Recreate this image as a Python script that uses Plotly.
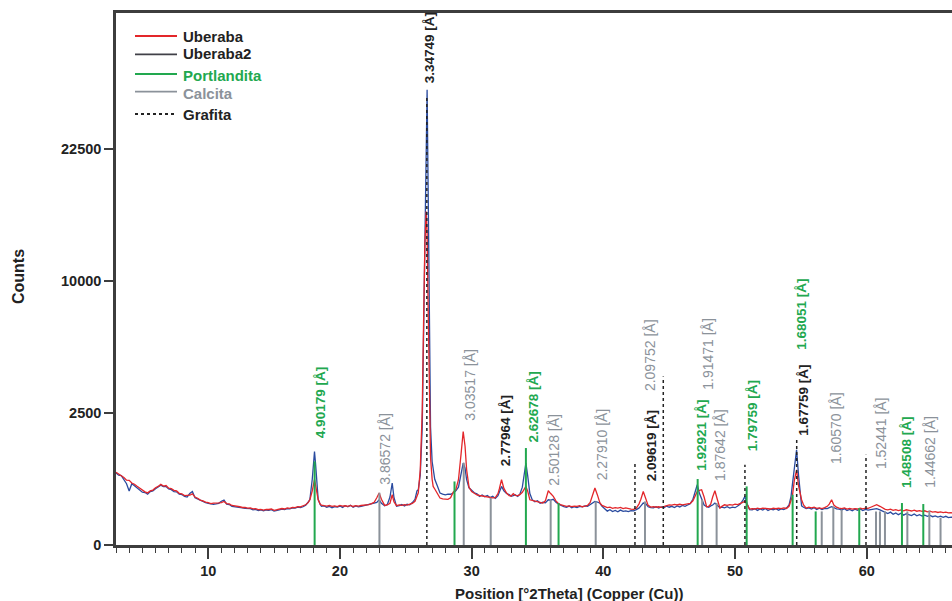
import numpy as np
import plotly.graph_objects as go

# ---------------- data ----------------
two_theta = [
    3.0, 3.2, 3.4, 3.6, 3.8, 4.0, 4.2, 4.4, 4.6, 4.8,
    5.0, 5.2, 5.4, 5.6, 5.8, 6.0, 6.2, 6.4, 6.6, 6.8,
    7.0, 7.2, 7.4, 7.6, 7.8, 8.0, 8.2, 8.4, 8.6, 8.8,
    9.0, 9.2, 9.4, 9.6, 9.8, 10.0, 10.2, 10.4, 10.6, 10.8,
    11.0, 11.2, 11.4, 11.6, 11.8, 12.0, 12.2, 12.4, 12.6, 12.8,
    13.0, 13.2, 13.4, 13.6, 13.8, 14.0, 14.2, 14.4, 14.6, 14.8,
    15.0, 15.2, 15.4, 15.6, 15.8, 16.0, 16.2, 16.4, 16.6, 16.8,
    17.0, 17.2, 17.4,
    17.6, 17.72, 17.9, 18.0, 18.07, 18.15, 18.25, 18.35, 18.5,
    18.6, 18.8, 19.0, 19.2, 19.4, 19.6, 19.8, 20.0, 20.2, 20.4,
    20.6, 20.8, 21.0, 21.2, 21.4, 21.6, 21.8, 22.0, 22.2, 22.4, 22.6,
    22.8, 22.98, 23.15, 23.4, 23.6, 23.8, 23.97, 24.1, 24.3,
    24.5, 24.7, 24.9, 25.1, 25.3, 25.5, 25.7,
    25.85, 25.95, 26.1, 26.25, 26.35, 26.45, 26.55, 26.62, 26.7, 26.78, 26.88, 27.0, 27.08,
    27.2, 27.4, 27.6, 27.8, 28.0, 28.2, 28.4, 28.6, 28.8, 29.0,
    29.2, 29.36, 29.5, 29.62, 29.8, 30.0, 30.2, 30.4, 30.6, 30.8,
    31.0, 31.2, 31.4, 31.6, 31.8, 32.0, 32.1, 32.27, 32.45, 32.65,
    32.85, 33.0, 33.16, 33.3, 33.5, 33.66, 33.85, 34.0, 34.12, 34.25,
    34.42, 34.6, 34.8, 35.0, 35.2, 35.4, 35.6, 35.82, 36.0, 36.2,
    36.4, 36.6, 36.8,
    37.0, 37.2, 37.4, 37.6, 37.8, 38.0, 38.2, 38.4, 38.6, 38.8,
    39.0, 39.2, 39.36, 39.55, 39.74, 39.9,
    40.1, 40.3, 40.5, 40.7, 40.9, 41.1, 41.3, 41.5, 41.7, 41.9, 42.1,
    42.3, 42.5, 42.7, 42.85, 43.03, 43.2, 43.4, 43.6,
    43.8, 44.0, 44.2, 44.4, 44.6, 44.8, 45.0, 45.2, 45.4, 45.6, 45.8, 46.0, 46.2, 46.4, 46.6,
    46.8, 46.95, 47.13, 47.3, 47.46, 47.65, 47.84, 48.0, 48.15, 48.3, 48.47, 48.65, 48.85,
    49.0, 49.2, 49.4, 49.6, 49.8, 50.0, 50.2, 50.4,
    50.6, 50.75, 50.9, 51.1,
    51.3, 51.5, 51.7, 51.9, 52.1, 52.3, 52.5, 52.7, 52.9, 53.1, 53.3, 53.5, 53.7, 53.9, 54.1,
    54.25, 54.35, 54.5, 54.67, 54.82, 54.95, 55.05, 55.2,
    55.4, 55.6, 55.8, 56.0, 56.2, 56.4, 56.6, 56.8,
    57.0, 57.15, 57.33, 57.5, 57.7,
    57.9, 58.1, 58.3, 58.5, 58.7, 58.9, 59.1, 59.3, 59.5, 59.7, 59.9, 60.1, 60.3,
    60.5, 60.75, 61.0, 61.2,
    61.4, 61.6, 61.8, 62.0, 62.2, 62.4, 62.6, 62.8, 63.0, 63.2, 63.4, 63.6, 63.8,
    64.0, 64.2, 64.4, 64.6, 64.8, 65.0, 65.2, 65.4, 65.6, 65.8, 66.0, 66.2, 66.4,
    66.5,
]

uberaba = [
    760, 728, 683, 655, 603, 600, 552, 531, 494, 462,
    424, 406, 390, 420, 433, 472, 493, 530, 498, 507,
    463, 456, 428, 420, 384, 376, 350, 349, 356, 375,
    330, 314, 290, 279, 263, 258, 247, 252, 249, 254,
    259, 272, 246, 243, 224, 221, 211, 210, 202, 204,
    195, 197, 187, 189, 180, 183, 175, 182, 181, 186,
    173, 181, 182, 191, 186, 197, 193, 203, 200, 211,
    208, 217, 232,
    260, 294, 420, 560, 612, 520, 380, 294, 240,
    228, 222, 218, 224, 214, 220, 212, 226, 218, 221,
    215, 225, 213, 222, 218, 224, 226, 230, 235, 245, 262,
    320, 388, 300, 225, 230, 250, 363, 270, 222,
    230, 226, 235, 228, 240, 248, 275,
    330, 392, 813, 2600, 7000, 13000, 15970, 14000, 8000, 3000, 1100, 620, 493,
    450, 380, 317, 305, 298, 300, 320, 400, 440, 612,
    1200, 1850, 1400, 813, 480, 410, 385, 360, 352, 345,
    338, 335, 325, 318, 322, 380, 450, 612, 460, 388,
    350, 345, 380, 355, 350, 363, 400, 450, 493, 420,
    294, 285, 275, 270, 260, 253, 280, 423, 380, 339,
    280, 245, 230,
    222, 215, 220, 212, 218, 214, 222, 210, 216, 225,
    260, 380, 466, 360, 253, 225,
    212, 200, 205, 192, 200, 196, 203, 190, 198, 188, 184,
    182, 195, 240, 300, 412, 320, 225, 207,
    212, 205, 210, 204, 214, 225, 232, 228, 236, 230, 238, 232, 236, 242, 250,
    280, 350, 412, 430, 439, 330, 210, 215, 240, 330, 422, 300, 196,
    215, 232, 225, 235, 228, 240, 235, 252,
    260, 273, 240, 185,
    190, 186, 194, 188, 195, 190, 192, 186, 194, 189, 196, 190, 198, 192, 215,
    290, 339, 600, 813, 500, 340, 294, 230,
    196, 205, 198, 206, 192, 198, 190, 200,
    215, 240, 294, 230, 205,
    195, 190, 198, 186, 192, 184, 190, 186, 194, 188, 196, 192, 205,
    220, 233, 215, 198,
    182, 178, 185, 172, 180, 170, 176, 168, 178, 172, 166, 175, 164,
    170, 162, 168, 158, 165, 155, 160, 152, 158, 150, 155, 148, 150,
    148,
]

uberaba2 = [
    745, 700, 690, 620, 540, 420, 540, 505, 470, 440,
    400, 395, 370, 410, 420, 455, 480, 515, 490, 490,
    450, 440, 410, 405, 370, 365, 340, 330, 380, 410,
    320, 305, 280, 270, 258, 250, 240, 238, 242, 250,
    275, 290, 240, 235, 215, 212, 205, 200, 198, 192,
    188, 190, 178, 182, 170, 178, 168, 176, 172, 180,
    165, 175, 178, 185, 180, 190, 188, 198, 195, 205,
    200, 210, 228,
    265, 300, 620, 1050, 1257, 950, 520, 300, 235,
    215, 220, 205, 214, 200, 212, 206, 218, 203, 222,
    210, 226, 205, 220, 208, 215, 222, 226, 230, 238, 250,
    260, 294, 250, 220, 235, 330, 551, 330, 215,
    222, 235, 218, 238, 232, 258, 300,
    420, 439, 700, 2000, 6000, 14000, 25000, 29750, 18000, 6000, 2000, 1000, 800,
    620, 500, 388, 372, 360, 372, 370, 388, 420, 480,
    700, 965, 850, 612, 470, 430, 392, 375, 340, 360,
    335, 352, 322, 340, 312, 350, 400, 493, 420, 380,
    365, 340, 350, 362, 340, 370, 480, 720, 965, 700,
    380, 295, 268, 282, 250, 262, 255, 294, 290, 300,
    262, 240, 222,
    212, 205, 218, 200, 210, 202, 214, 208, 220, 215,
    232, 250, 273, 265, 250, 215,
    190, 165, 178, 160, 172, 158, 175, 162, 168, 160, 170,
    168, 180, 195, 220, 253, 250, 210, 200,
    198, 210, 195, 208, 200, 218, 205, 215, 202, 220, 208, 225, 215, 230, 245,
    300, 400, 521, 380, 300, 230, 210, 205, 220, 230, 253, 230, 200,
    205, 198, 210, 195, 206, 200, 218, 240,
    290, 339, 250, 180,
    178, 190, 172, 186, 176, 192, 170, 185, 178, 190, 174, 188, 180, 195, 230,
    340, 520, 900, 1302, 700, 380, 220, 205,
    190, 198, 185, 200, 182, 194, 180, 192,
    190, 200, 210, 200, 188,
    185, 176, 190, 170, 182, 168, 184, 172, 186, 170, 182, 175, 180,
    185, 190, 178, 165,
    150, 142, 155, 135, 148, 132, 145, 128, 140, 130, 125, 138, 122,
    132, 120, 128, 118, 126, 115, 122, 112, 120, 110, 118, 108, 112,
    110,
]

assert len(two_theta) == len(uberaba) == len(uberaba2), (len(two_theta), len(uberaba), len(uberaba2))

# reference patterns (position 2theta, relative height in counts)
portlandita_pos = [18.08, 28.70, 34.12, 36.60, 47.16, 50.88, 54.37, 56.12, 59.43, 62.67, 64.29]
portlandita_h = [1003, 580, 1350, 253, 625, 493, 363, 162, 196, 253, 241]

calcita_pos = [23.00, 29.40, 31.45, 36.00, 39.42, 43.16, 47.50, 48.60, 56.58, 57.46, 58.09, 60.70,
               61.00, 61.38, 63.08, 64.75, 65.60]
calcita_h = [392, 972, 321, 294, 273, 273, 294, 253, 162, 214, 179, 162, 162, 162, 162, 170, 107]

grafita_pos = [26.60, 42.40, 44.55, 50.75, 54.68, 59.94]
grafita_h = [29000, 1003, 4079, 925, 1591, 1170]

# peak labels
label_text = ["4.90179 [Å]", "3.86572 [Å]", "3.34749 [Å]", "3.03517 [Å]", "2.77964 [Å]", "2.62678 [Å]",
              "2.50128 [Å]", "2.27910 [Å]", "2.09619 [Å]", "2.09752 [Å]", "1.92921 [Å]", "1.91471 [Å]",
              "1.87642 [Å]", "1.79759 [Å]", "1.68051 [Å]", "1.67759 [Å]", "1.60570 [Å]", "1.52441 [Å]",
              "1.48508 [Å]", "1.44662 [Å]"]
label_x = [18.48, 23.42, 26.83, 29.87, 32.53, 34.68, 36.25, 39.87, 43.67, 43.49, 47.46, 47.97,
           48.85, 51.34, 55.06, 55.18, 57.71, 61.13, 63.03, 64.80]
label_base = [1591, 488, 30400, 2146, 857, 1443, 471, 557, 552, 3328, 750, 3385,
              552, 1214, 5378, 1643, 886, 777, 439, 439]
label_kind = ["P", "C", "B", "C", "B", "P", "C", "C", "B", "C", "P", "C",
              "C", "P", "P", "B", "C", "C", "P", "C"]

legend_names = ["Uberaba", "Uberaba2", "Portlandita", "Calcita", "Grafita"]

# y tick labels (square-root count scale)
ytick_counts = [0, 2500, 10000, 22500]
x_ticks = [10, 20, 30, 40, 50, 60]

# ---------------- styling ----------------
RED = "#e3262a"
BLUE = "#2a4b9f"
GREEN = "#22a84f"
GREY = "#8b929a"
BLACK = "#222222"
AXIS = "#3d3d3d"
FONT = "Liberation Sans, Arial, sans-serif"

kind_color = {"P": GREEN, "C": GREY, "B": BLACK}

W, H = 952, 601
ML, MR, MT, MB = 116, 0, 13, 56
PW, PH = W - ML - MR, H - MT - MB


def sq(v):
    return np.sqrt(np.asarray(v, dtype=float))


def px_x(px):
    return (px - ML) / PW


def px_y(py):
    return (H - MB - py) / PH


fig = go.Figure()

fig.add_trace(go.Scatter(x=two_theta, y=sq(uberaba2), mode="lines", name="Uberaba2",
                         line=dict(color=BLUE, width=1.3), showlegend=False))
fig.add_trace(go.Scatter(x=two_theta, y=sq(uberaba), mode="lines", name="Uberaba",
                         line=dict(color=RED, width=1.3), showlegend=False))


def sticks(pos, h, color, width, dash, name):
    xs, ys = [], []
    for p, v in zip(pos, h):
        xs += [p, p, None]
        ys += [0, float(np.sqrt(v)), None]
    fig.add_trace(go.Scatter(x=xs, y=ys, mode="lines", name=name, showlegend=False,
                             line=dict(color=color, width=width, dash=dash)))


sticks(calcita_pos, calcita_h, GREY, 2, "solid", "Calcita")
sticks(portlandita_pos, portlandita_h, GREEN, 2, "solid", "Portlandita")
sticks(grafita_pos, grafita_h, BLACK, 1.5, "dot", "Grafita")

annotations = []
for t, x, b, k in zip(label_text, label_x, label_base, label_kind):
    bold = k in ("P", "B")
    annotations.append(dict(
        x=x, y=float(np.sqrt(b)), xref="x", yref="y", text=("<b>%s</b>" % t) if bold else t,
        textangle=-90, showarrow=False, xanchor="center", yanchor="bottom",
        font=dict(family=FONT, size=13.5 if bold else 14, color=kind_color[k])))

# legend (drawn inside the frame)
leg_line_y = [36, 54.3, 74, 91.7, 114]
leg_text_y = [36.7, 54, 75.5, 93.3, 114.3]
leg_line_col = [RED, "#404048", GREEN, GREY, BLACK]
leg_text_col = [BLACK, BLACK, GREEN, GREY, BLACK]
leg_dash = ["solid", "solid", "solid", "solid", "dot"]
shapes = []
for nm, ly, ty, lc, tc, ds in zip(legend_names, leg_line_y, leg_text_y, leg_line_col, leg_text_col, leg_dash):
    shapes.append(dict(type="line", xref="paper", yref="paper", x0=px_x(135), x1=px_x(177),
                       y0=px_y(ly), y1=px_y(ly), line=dict(color=lc, width=1.8, dash=ds)))
    annotations.append(dict(x=px_x(181), y=px_y(ty), xref="paper", yref="paper", text="<b>%s</b>" % nm,
                            showarrow=False, xanchor="left", yanchor="middle",
                            font=dict(family=FONT, size=15, color=tc)))

# axis titles
annotations.append(dict(x=px_x(569), y=px_y(593), xref="paper", yref="paper",
                        text="<b>Position [°2Theta] (Copper (Cu))</b>", showarrow=False,
                        xanchor="center", yanchor="middle", font=dict(family=FONT, size=15, color=BLACK)))
annotations.append(dict(x=px_x(18), y=px_y(277), xref="paper", yref="paper", text="<b>Counts</b>",
                        textangle=-90, showarrow=False, xanchor="center", yanchor="middle",
                        font=dict(family=FONT, size=16, color=BLACK)))

fig.update_layout(
    width=W, height=H,
    margin=dict(l=ML, r=MR, t=MT, b=MB, pad=0),
    paper_bgcolor="white", plot_bgcolor="white",
    showlegend=False,
    annotations=annotations, shapes=shapes,
    xaxis=dict(range=[3, 66.47], tickmode="array", tickvals=x_ticks,
               ticktext=["<b>%d</b>" % v for v in x_ticks],
               ticks="outside", ticklen=11, tickwidth=1.5, tickcolor=AXIS,
               minor=dict(tickmode="linear", tick0=0, dtick=1, ticks="outside", ticklen=5,
                          tickwidth=1, tickcolor=AXIS),
               showline=True, linecolor=AXIS, linewidth=2.5, mirror=True,
               showgrid=False, zeroline=False,
               tickfont=dict(family=FONT, size=14.5, color=BLACK)),
    yaxis=dict(range=[0, 201.6], tickmode="array", tickvals=[float(np.sqrt(v)) for v in ytick_counts],
               ticktext=["<b>%d</b>" % v for v in ytick_counts],
               ticks="outside", ticklen=9, tickwidth=1.5, tickcolor=AXIS,
               showline=True, linecolor=AXIS, linewidth=2.5, showgrid=False, zeroline=False,
               tickfont=dict(family=FONT, size=14.5, color=BLACK)),
)

fig.write_html("out.html", config={"displayModeBar": False},
               post_script="document.body.style.margin='0';document.body.style.overflow='hidden';")
